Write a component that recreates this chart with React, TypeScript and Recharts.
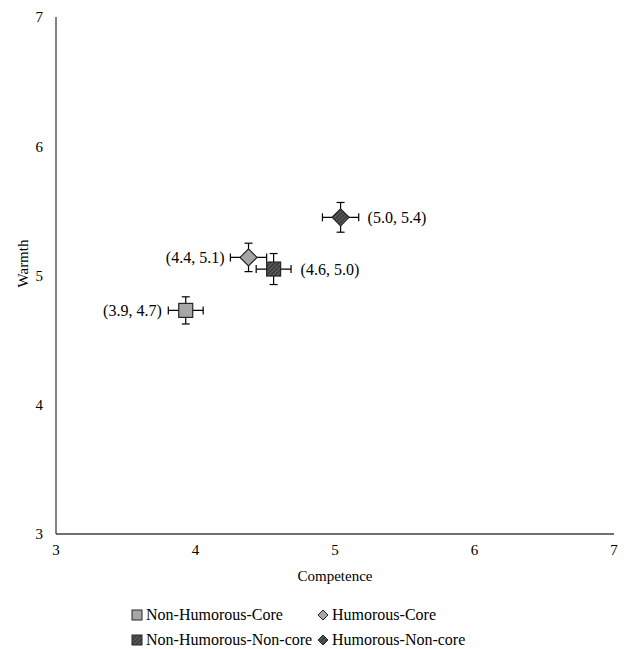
import { ScatterChart, Scatter, XAxis, YAxis, ErrorBar, LabelList } from "recharts";

const SERIES = ["Non-Humorous-Core", "Humorous-Core", "Non-Humorous-Non-core", "Humorous-Non-core"];
const COMPETENCE = [3.93, 4.38, 4.56, 5.04];
const WARMTH = [4.73, 5.14, 5.05, 5.45];
const COMPETENCE_ERR = [0.125, 0.13, 0.125, 0.13];
const WARMTH_ERR = [0.105, 0.11, 0.12, 0.115];
const POINT_LABELS = ["(3.9, 4.7)", "(4.4, 5.1)", "(4.6, 5.0)", "(5.0, 5.4)"];
const LABEL_SIDE = ["left", "left", "right", "right"];
const TICKS = [3, 4, 5, 6, 7];

const FONT = "Liberation Serif";
const STROKE = "#262626";
const FILLS = ["#a6a6a6", "#a6a6a6", "url(#hatch)", "url(#hatch)"];
const SHAPES = ["square", "diamond", "square", "diamond"];

function Marker({ cx, cy, kind, fill }: any) {
  if (kind === "square") {
    return <rect x={cx - 7} y={cy - 7} width={14} height={14} fill={fill} stroke={STROKE} strokeWidth={1.2} />;
  }
  const r = 8.5;
  return (
    <polygon
      points={`${cx},${cy - r} ${cx + r},${cy} ${cx},${cy + r} ${cx - r},${cy}`}
      fill={fill}
      stroke={STROKE}
      strokeWidth={1.2}
    />
  );
}

function PointLabel(side: string) {
  return (props: any) => {
    const { x, y, width, height, value } = props;
    const cx = x + width / 2;
    const cy = y + height / 2;
    const left = side === "left";
    return (
      <text
        x={left ? cx - 24 : cx + 27}
        y={cy}
        dy="0.35em"
        textAnchor={left ? "end" : "start"}
        fontFamily={FONT}
        fontSize={16}
        fill="#000"
      >
        {value}
      </text>
    );
  };
}

function WarmthLabel(props: any) {
  const { viewBox } = props;
  const x = viewBox.x + 28;
  const y = viewBox.y + viewBox.height / 2 - 12;
  return (
    <text x={x} y={y} transform={`rotate(-90 ${x} ${y})`} textAnchor="middle" fontFamily={FONT} fontSize={15} fill="#000">
      Warmth
    </text>
  );
}

function LegendIcon({ kind, fill }: { kind: string; fill: string }) {
  return (
    <svg width={12} height={12} style={{ marginRight: 3 }}>
      <defs>
        <pattern id="hatchL" width="3" height="3" patternUnits="userSpaceOnUse" patternTransform="rotate(45)">
          <rect width="3" height="3" fill="#3d3d3d" />
          <line x1="0" y1="0" x2="0" y2="3" stroke="#8a8a8a" strokeWidth="1" />
        </pattern>
      </defs>
      {kind === "square" ? (
        <rect x={1} y={1} width={10} height={10} fill={fill.replace("hatch", "hatchL")} stroke={STROKE} strokeWidth={1} />
      ) : (
        <polygon points="6,1 11,6 6,11 1,6" fill={fill.replace("hatch", "hatchL")} stroke={STROKE} strokeWidth={1} />
      )}
    </svg>
  );
}

export default function App() {
  return (
    <div style={{ position: "absolute", left: 0, top: 0, width: 628, height: 649, background: "#fff" }}>
      <ScatterChart width={628} height={649} margin={{ top: 17, right: 14, left: 0, bottom: 85 }}>
        <defs>
          <pattern id="hatch" width="3" height="3" patternUnits="userSpaceOnUse" patternTransform="rotate(45)">
            <rect width="3" height="3" fill="#3d3d3d" />
            <line x1="0" y1="0" x2="0" y2="3" stroke="#8a8a8a" strokeWidth="1" />
          </pattern>
        </defs>
        <XAxis
          type="number"
          dataKey="x"
          domain={[3, 7]}
          ticks={TICKS}
          allowDataOverflow
          tickLine={false}
          tickSize={0}
          tickMargin={10}
          height={30}
          axisLine={{ stroke: "#404040", strokeWidth: 1.3 }}
          tick={{ fill: "#000", fontFamily: FONT, fontSize: 15 }}
          label={{ value: "Competence", position: "bottom", offset: 6, fill: "#000", fontFamily: FONT, fontSize: 15 }}
        />
        <YAxis
          type="number"
          dataKey="y"
          domain={[3, 7]}
          ticks={TICKS}
          allowDataOverflow
          tickLine={false}
          tickSize={0}
          tickMargin={13}
          width={56}
          axisLine={{ stroke: "#404040", strokeWidth: 1.3 }}
          tick={{ fill: "#000", fontFamily: FONT, fontSize: 15 }}
          label={{ content: WarmthLabel }}
        />
        {SERIES.map((name, i) => (
          <Scatter
            key={name}
            name={name}
            data={[
              {
                x: COMPETENCE[i],
                y: WARMTH[i],
                ex: COMPETENCE_ERR[i],
                ey: WARMTH_ERR[i],
                label: POINT_LABELS[i],
              },
            ]}
            isAnimationActive={false}
            shape={(p: any) => <Marker cx={p.cx} cy={p.cy} kind={SHAPES[i]} fill={FILLS[i]} />}
          >
            <ErrorBar dataKey="ex" direction="x" width={4} stroke="#000" strokeWidth={1.2} />
            <ErrorBar dataKey="ey" direction="y" width={4} stroke="#000" strokeWidth={1.2} />
            <LabelList dataKey="label" content={PointLabel(LABEL_SIDE[i])} />
          </Scatter>
        ))}
      </ScatterChart>
      <div
        style={{
          position: "absolute",
          left: 131,
          top: 605,
          display: "grid",
          gridTemplateColumns: "186px 200px",
          rowGap: 5,
          fontFamily: FONT,
          fontSize: 16,
          color: "#000",
          lineHeight: "20px",
        }}
      >
        {SERIES.map((name, i) => (
          <div key={name} style={{ display: "flex", alignItems: "center", whiteSpace: "nowrap" }}>
            <LegendIcon kind={SHAPES[i]} fill={FILLS[i]} />
            {name}
          </div>
        ))}
      </div>
    </div>
  );
}
